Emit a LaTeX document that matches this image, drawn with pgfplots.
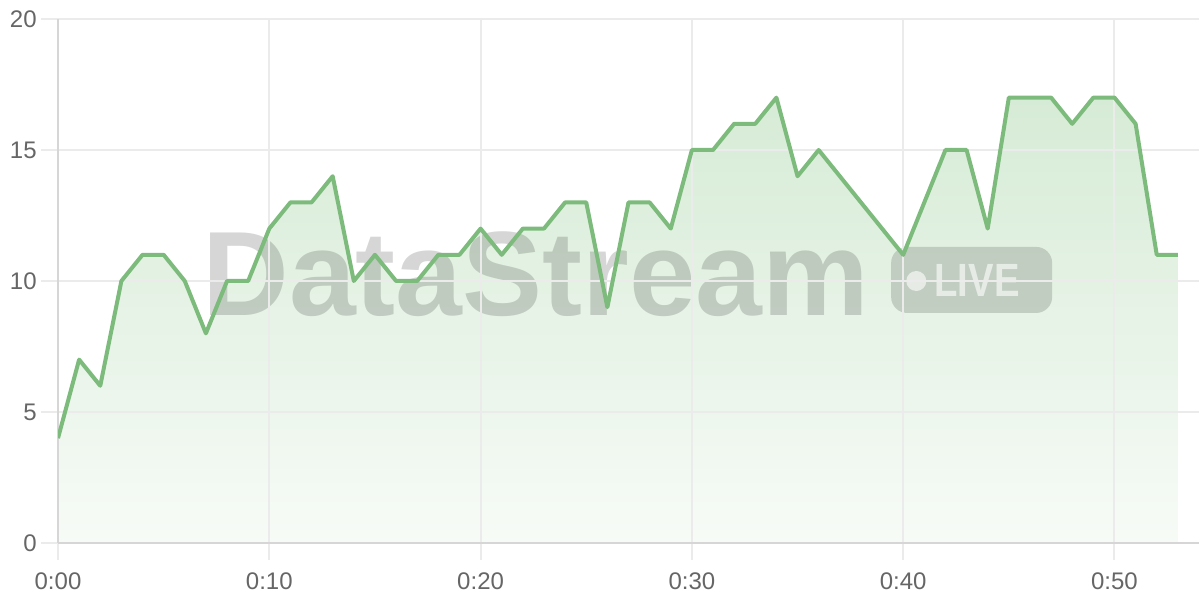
\documentclass[border=0pt]{standalone}
\usepackage{pgfplots}
\usepackage{pgfplotstable}
\pgfplotsset{compat=1.18}
\usepackage{fontspec}
\setmainfont{Liberation Sans}
\usepackage{graphicx}

\definecolor{linegreen}{HTML}{7CBB7C}
\definecolor{filltop}{HTML}{D6EBD6}
\definecolor{fillbot}{HTML}{F7FBF7}
\definecolor{gridgray}{HTML}{EBEBEB}
\definecolor{axisgray}{HTML}{D6D6D6}
\definecolor{labelgray}{HTML}{666666}

% minutes since start, value
\pgfplotstableread{
t v
0 4
1 7
2 6
3 10
4 11
5 11
6 10
7 8
8 10
9 10
10 12
11 13
12 13
13 14
14 10
15 11
16 10
17 10
18 11
19 11
20 12
21 11
22 12
23 12
24 13
25 13
26 9
27 13
28 13
29 12
30 15
31 15
32 16
33 16
34 17
35 14
36 15
37 14
38 13
39 12
40 11
41 13
42 15
43 15
44 12
45 17
46 17
47 17
48 16
49 17
50 17
51 16
52 11
53 11
}\series

\begin{document}
\begin{tikzpicture}
\begin{axis}[
  set layers,
  at={(43.5pt,42.75pt)}, anchor=south west,
  scale only axis, width=855.75pt, height=393pt,
  xmin=0, xmax=54, ymin=0, ymax=20,
  xtick={0,10,...,50},
  xticklabels={0:00,0:10,0:20,0:30,0:40,0:50},
  ytick={0,5,...,20},
  axis lines*=left,
  axis line style={draw=axisgray, line width=1.5pt, -},
  grid=major,
  major grid style={draw=gridgray, line width=1.5pt},
  tick align=outside,
  major tick length=12.5pt,
  xtick style={draw=gridgray, line width=1.5pt},
  ytick style={draw=gridgray, line width=1.5pt},
  /pgf/number format/assume math mode=true,
  ticklabel style={font=\fontsize{18}{18}\selectfont, text=labelgray},
  xticklabel style={yshift=-6pt},
]
  \addplot[on layer=axis background, draw=none, top color=filltop, bottom color=fillbot]
    table[x=t, y=v] {\series} \closedcycle;

  \begin{pgfonlayer}{axis background}
    \node[anchor=base west, inner sep=0pt, text=black, text opacity=0.16,
          font=\fontsize{90}{90}\selectfont\bfseries]
      at (axis cs:6.82,8.70) {DataStream};
    \fill[black, opacity=0.15, rounded corners=12pt]
      (axis cs:39.43,8.78) rectangle (axis cs:47.05,11.30);
    \fill[white, opacity=0.6] (axis cs:40.62,10.0) circle[radius=7.5pt];
    \node[anchor=base west, inner sep=0pt, text=white, text opacity=0.6,
          font=\fontsize{35}{35}\selectfont\bfseries]
      at (axis cs:41.47,9.39) {\scalebox{0.82}[1]{LIVE}};
  \end{pgfonlayer}

  \addplot[linegreen, line width=3pt, line join=round, mark=none]
    table[x=t, y=v] {\series};
\end{axis}
\pgfresetboundingbox
\useasboundingbox (0pt,0pt) rectangle (900pt,450pt);
\end{tikzpicture}
\end{document}
